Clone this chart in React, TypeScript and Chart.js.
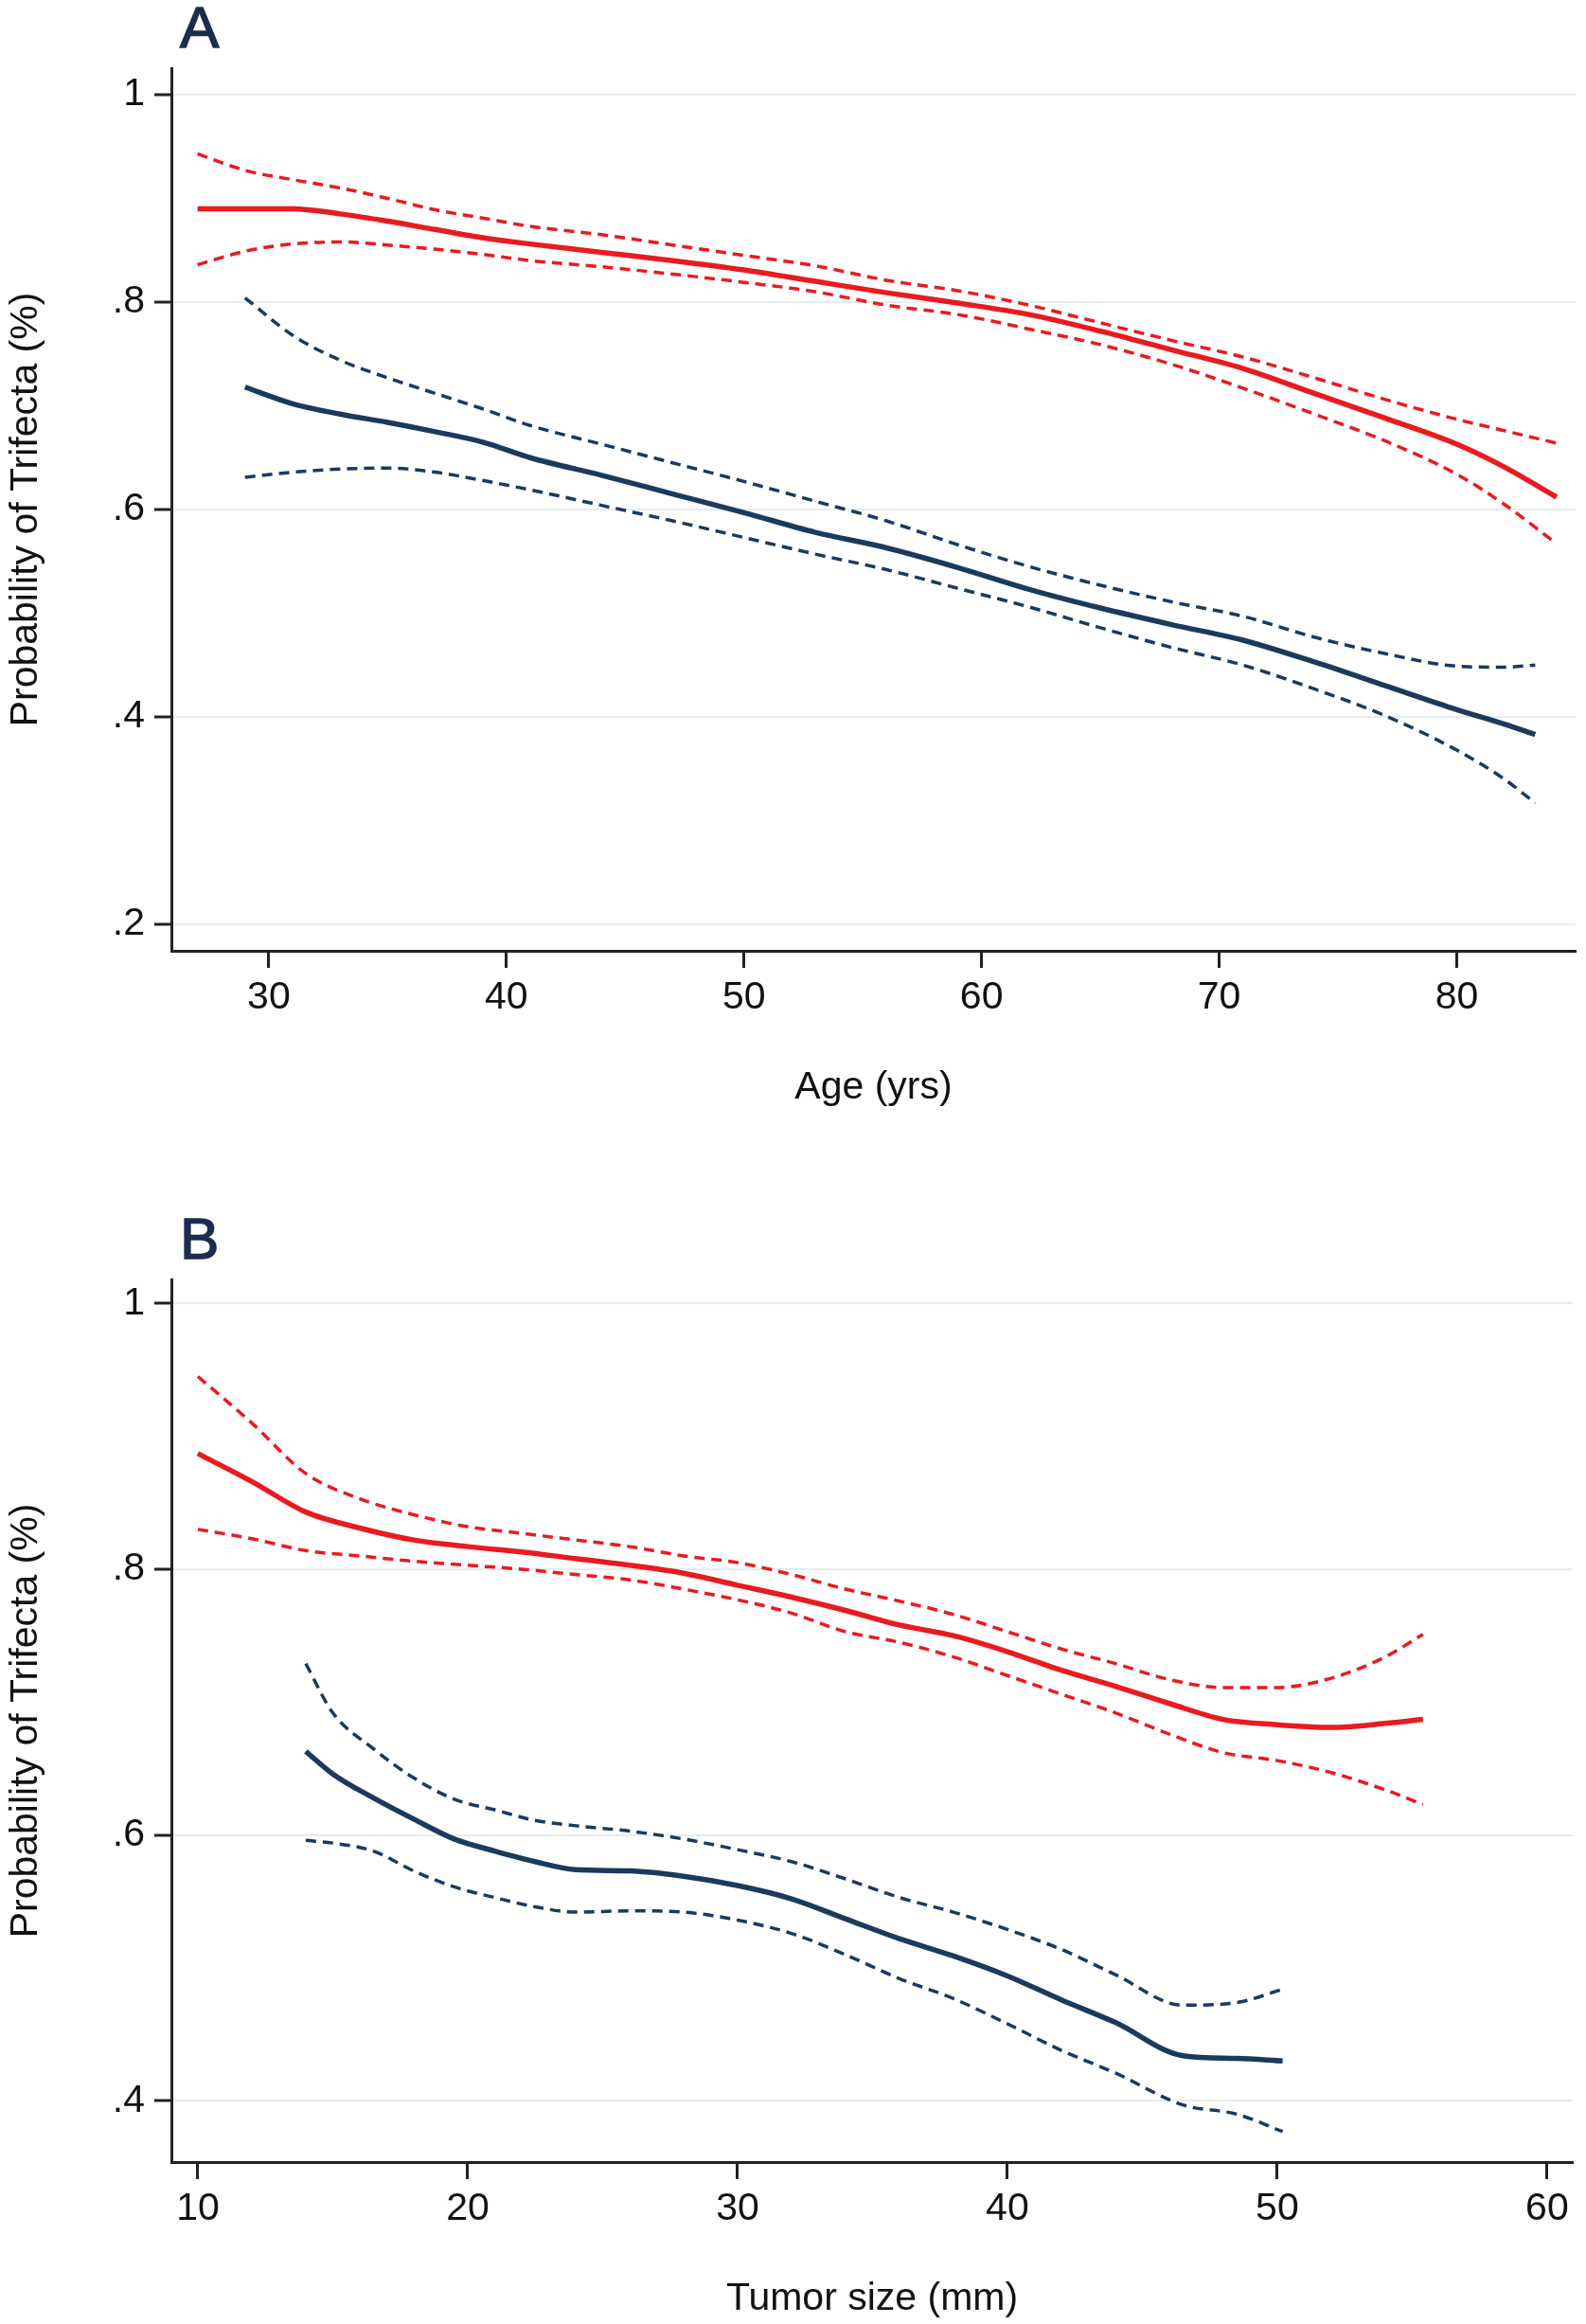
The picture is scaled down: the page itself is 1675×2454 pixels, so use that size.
import React, { useEffect, useRef } from "react";
import { Chart, registerables } from "chart.js";

Chart.register(...registerables);

// ---------- Panel A: Age ----------
const ageTicks = [30, 40, 50, 60, 70, 80];
const probTicksA = [0.2, 0.4, 0.6, 0.8, 1];

const ageRed = [27, 29, 31, 33, 35, 37, 39, 41, 44, 47, 50, 53, 56, 59, 62, 65, 68, 71, 74, 77, 80, 82, 84.2];
const redFitA = [0.890, 0.890, 0.890, 0.885, 0.878, 0.870, 0.862, 0.856, 0.848, 0.840, 0.831, 0.820, 0.809, 0.799, 0.788, 0.772, 0.754, 0.736, 0.712, 0.688, 0.663, 0.641, 0.612];
const redUpperA = [0.943, 0.927, 0.918, 0.910, 0.900, 0.889, 0.881, 0.873, 0.865, 0.855, 0.845, 0.835, 0.821, 0.811, 0.797, 0.780, 0.763, 0.747, 0.727, 0.706, 0.687, 0.676, 0.664];
const redLowerA = [0.836, 0.849, 0.856, 0.858, 0.855, 0.851, 0.846, 0.840, 0.834, 0.827, 0.819, 0.810, 0.797, 0.788, 0.774, 0.759, 0.740, 0.717, 0.692, 0.666, 0.634, 0.605, 0.567];

const ageNavy = [29, 31, 33, 35, 37, 39, 41, 44, 47, 50, 53, 56, 59, 62, 65, 68, 71, 74, 77, 80, 82, 83.3];
const navyFitA = [0.718, 0.702, 0.692, 0.684, 0.675, 0.665, 0.650, 0.633, 0.615, 0.597, 0.578, 0.563, 0.544, 0.523, 0.505, 0.489, 0.474, 0.453, 0.430, 0.407, 0.393, 0.383];
const navyUpperA = [0.804, 0.768, 0.744, 0.727, 0.712, 0.697, 0.681, 0.663, 0.645, 0.627, 0.608, 0.589, 0.566, 0.545, 0.527, 0.511, 0.497, 0.477, 0.461, 0.449, 0.448, 0.450];
const navyLowerA = [0.631, 0.636, 0.639, 0.640, 0.636, 0.628, 0.619, 0.604, 0.589, 0.573, 0.557, 0.542, 0.524, 0.506, 0.486, 0.467, 0.450, 0.427, 0.401, 0.368, 0.340, 0.317];

// ---------- Panel B: Tumor size ----------
const sizeTicks = [10, 20, 30, 40, 50, 60];
const probTicksB = [0.4, 0.6, 0.8, 1];

const sizeRed = [10, 12, 14, 16, 18, 20, 22, 24, 26, 28, 30, 32, 34, 36, 38, 40, 42, 44, 46, 48, 50, 52, 54, 55.4];
const redFitB = [0.887, 0.866, 0.843, 0.831, 0.822, 0.817, 0.813, 0.808, 0.803, 0.797, 0.788, 0.779, 0.769, 0.758, 0.750, 0.738, 0.724, 0.712, 0.699, 0.687, 0.683, 0.681, 0.684, 0.687];
const redUpperB = [0.945, 0.910, 0.872, 0.853, 0.841, 0.832, 0.827, 0.822, 0.817, 0.810, 0.805, 0.796, 0.785, 0.776, 0.766, 0.753, 0.740, 0.729, 0.717, 0.711, 0.711, 0.718, 0.734, 0.751];
const redLowerB = [0.830, 0.823, 0.814, 0.810, 0.806, 0.803, 0.800, 0.796, 0.792, 0.785, 0.777, 0.767, 0.753, 0.745, 0.734, 0.720, 0.706, 0.692, 0.676, 0.662, 0.656, 0.647, 0.634, 0.623];

const sizeNavy = [14, 15, 16.5, 18, 19.5, 21, 22.5, 24, 26, 28, 30, 32, 34, 36, 38, 40, 42, 44, 46.5, 48.5, 50.2];
const navyFitB = [0.663, 0.646, 0.628, 0.612, 0.597, 0.588, 0.580, 0.574, 0.573, 0.569, 0.562, 0.552, 0.537, 0.522, 0.509, 0.494, 0.476, 0.459, 0.434, 0.432, 0.430];
const navyUpperB = [0.729, 0.692, 0.665, 0.643, 0.627, 0.619, 0.611, 0.607, 0.603, 0.597, 0.589, 0.580, 0.567, 0.553, 0.542, 0.529, 0.514, 0.495, 0.472, 0.474, 0.484];
const navyLowerB = [0.596, 0.594, 0.588, 0.573, 0.561, 0.553, 0.546, 0.542, 0.543, 0.542, 0.536, 0.526, 0.510, 0.492, 0.477, 0.458, 0.438, 0.421, 0.397, 0.390, 0.377];

const RED = "#ea1a1f";
const NAVY = "#1a3a5e";
const FONT = "'Liberation Sans', Arial, Helvetica, sans-serif";

const pts = (xs: number[], ys: number[]) => xs.map((x, i) => ({ x, y: ys[i] }));

function solid(data: any, color: string) {
  return { data, borderColor: color, borderWidth: 5.5, pointRadius: 0, fill: false, cubicInterpolationMode: "monotone" };
}
function dashed(data: any, color: string) {
  return { data, borderColor: color, borderWidth: 3.5, borderDash: [11, 7], pointRadius: 0, fill: false, cubicInterpolationMode: "monotone" };
}

interface PanelProps {
  letter: string;
  top: number;
  xTitle: string;
  xMin: number;
  xMax: number;
  yMin: number;
  yMax: number;
  xTicks: number[];
  yTicks: number[];
  rightPad: number;
  datasets: any[];
}

function Panel(p: PanelProps) {
  const ref = useRef<HTMLCanvasElement | null>(null);
  useEffect(() => {
    if (!ref.current) return;
    const chart = new Chart(ref.current, {
      type: "line",
      data: { datasets: p.datasets },
      options: {
        animation: false,
        responsive: false,
        devicePixelRatio: 1,
        layout: { padding: { top: 71, right: p.rightPad, left: 0, bottom: 0 } },
        plugins: { legend: { display: false }, tooltip: { enabled: false }, title: { display: false } },
        scales: {
          x: {
            type: "linear",
            min: p.xMin,
            max: p.xMax,
            afterBuildTicks: (s: any) => { s.ticks = p.xTicks.map((v) => ({ value: v })); },
            afterFit: (s: any) => { s.height = 171; },
            grid: { drawOnChartArea: false, drawTicks: true, tickLength: 18, tickWidth: 3, tickColor: "#222" },
            border: { display: true, color: "#222", width: 3 },
            ticks: { color: "#111", padding: 7, font: { family: FONT, size: 41 }, maxRotation: 0, autoSkip: false },
            title: { display: true, text: p.xTitle, color: "#111", font: { family: FONT, size: 41 }, padding: { top: 0, bottom: 1.4 } },
          },
          y: {
            type: "linear",
            min: p.yMin,
            max: p.yMax,
            afterBuildTicks: (s: any) => { s.ticks = p.yTicks.map((v) => ({ value: v })); },
            afterFit: (s: any) => { s.width = 181; },
            grid: { color: "#e4edf0", lineWidth: 2, drawTicks: true, tickLength: 18, tickWidth: 3, tickColor: "#222" },
            border: { display: true, color: "#222", width: 3 },
            ticks: {
              color: "#111",
              padding: 10,
              font: { family: FONT, size: 41 },
              callback: (v: any) => (v === 1 ? "1" : String(Number(v).toFixed(1)).replace(/^0/, "")),
            },
            title: { display: true, text: "Probability of Trifecta (%)", color: "#111", font: { family: FONT, size: 41 }, padding: { top: 3.5, bottom: 0 } },
          },
        },
      },
    } as any);
    return () => chart.destroy();
  }, []);
  return (
    <div style={{ position: "absolute", left: 0, top: p.top, width: 1675, height: 1174 }}>
      <canvas ref={ref} width={1675} height={1174} style={{ display: "block", width: 1675, height: 1174 }} />
      <div
        style={{
          position: "absolute",
          left: 190,
          top: -3,
          fontFamily: FONT,
          fontSize: 62,
          lineHeight: "62px",
          color: "#1c2b4f",
          WebkitTextStroke: "1.5px #1c2b4f",
        }}
      >
        {p.letter}
      </div>
    </div>
  );
}

export default function App() {
  const dsA = [
    dashed(pts(ageNavy, navyUpperA), NAVY),
    dashed(pts(ageNavy, navyLowerA), NAVY),
    solid(pts(ageNavy, navyFitA), NAVY),
    dashed(pts(ageRed, redUpperA), RED),
    dashed(pts(ageRed, redLowerA), RED),
    solid(pts(ageRed, redFitA), RED),
  ];
  const dsB = [
    dashed(pts(sizeNavy, navyUpperB), NAVY),
    dashed(pts(sizeNavy, navyLowerB), NAVY),
    solid(pts(sizeNavy, navyFitB), NAVY),
    dashed(pts(sizeRed, redUpperB), RED),
    dashed(pts(sizeRed, redLowerB), RED),
    solid(pts(sizeRed, redFitB), RED),
  ];
  return (
    <div style={{ position: "absolute", left: 0, top: 0, width: 1675, height: 2454, overflow: "hidden", background: "#fff" }}>
      <Panel letter="A" top={1} xTitle="Age (yrs)" xMin={25.9} xMax={85.0} yMin={0.1745} yMax={1.0255}
        xTicks={ageTicks} yTicks={probTicksA} rightPad={11} datasets={dsA} />
      <Panel letter="B" top={1280} xTitle="Tumor size (mm)" xMin={9.02} xMax={60.95} yMin={0.354} yMax={1.018}
        xTicks={sizeTicks} yTicks={probTicksB} rightPad={14} datasets={dsB} />
    </div>
  );
}
